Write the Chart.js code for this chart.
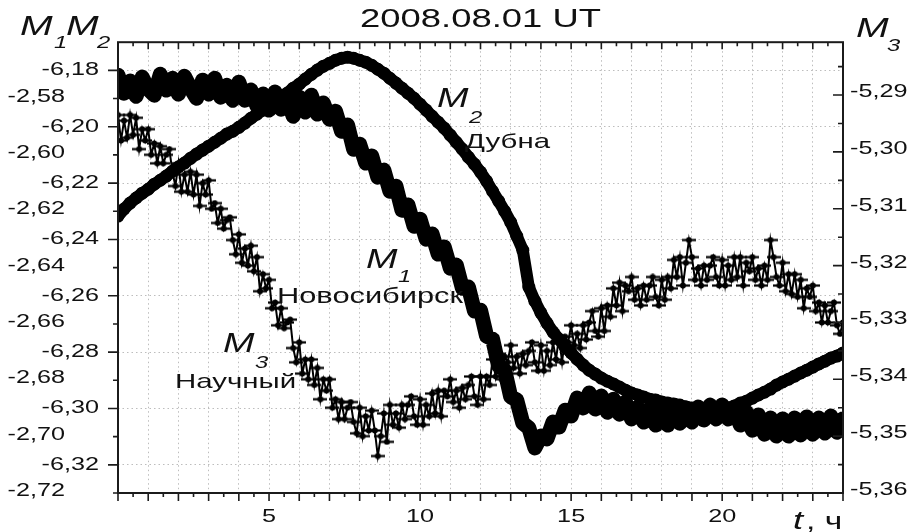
<!DOCTYPE html>
<html><head><meta charset="utf-8">
<script src="https://cdn.jsdelivr.net/npm/chart.js@4.4.1/dist/chart.umd.min.js"></script>
<style>html,body{margin:0;padding:0;background:#fff;} canvas{display:block;}</style>
</head><body>
<canvas id="c" width="915" height="532"></canvas>
<script>
// ---- data (hours UT) ----
const hoursM12 = Array.from({length: 121}, (_, i) => i / 5);   // sample times for M1, M2
const hoursM3  = Array.from({length: 241}, (_, i) => i / 10);  // sample times for M3

// M1 — Новосибирск (left scale -6.xx)
const m1Values = [
 -6.1817,-6.1881,-6.1838,-6.1892,-6.1824,-6.1867,-6.1888,-6.1814,-6.1870,-6.1828,
 -6.1884,-6.1821,-6.1863,-6.1899,-6.1835,-6.1884,-6.1828,-6.1895,-6.1853,-6.1906,
 -6.1842,-6.1906,-6.1870,-6.1927,-6.1884,-6.1941,-6.1877,-6.1938,-6.1902,-6.1963,
 -6.1895,-6.1948,-6.1888,-6.1955,-6.1916,-6.1973,-6.1945,-6.2016,-6.1994,-6.2080,
 -6.2062,-6.2129,-6.2104,-6.2179,-6.2154,-6.2229,-6.2211,-6.2296,-6.2278,-6.2353,
 -6.2328,-6.2399,-6.2381,-6.2452,-6.2427,-6.2502,-6.2491,-6.2573,-6.2569,-6.2654,
 -6.2651,-6.2743,-6.2754,-6.2849,-6.2864,-6.2959,-6.2970,-6.3052,-6.3069,-6.3140,
 -6.3098,-6.3108,-6.3048,-6.3066,-6.3006,-6.3027,-6.2963,-6.2998,-6.2945,-6.3002,
 -6.2956,-6.3013,-6.2967,-6.3020,-6.2977,-6.3037,-6.2995,-6.3048,-6.3002,-6.3059,
 -6.3006,-6.3059,-6.3006,-6.3052,-6.2998,-6.3048,-6.2995,-6.3041,-6.2988,-6.3037,
 -6.2988,-6.3037,-6.2998,-6.3059,-6.3013,-6.3077,-6.3023,-6.3091,-6.3034,-6.3098,
 -6.3037,-6.3098,-6.3034,-6.3094,-6.3030,-6.3091,-6.3034,-6.3087,-6.3027,-6.3084,
 -6.3037
];

// M2 — Дубна (left scale -2.xx)
const m2Values = [
 -2.6217,-2.6192,-2.6171,-2.6153,-2.6136,-2.6122,-2.6104,-2.6090,-2.6075,-2.6058,
 -2.6043,-2.6029,-2.6012,-2.5997,-2.5983,-2.5969,-2.5955,-2.5941,-2.5926,-2.5916,
 -2.5902,-2.5887,-2.5870,-2.5855,-2.5841,-2.5827,-2.5813,-2.5795,-2.5781,-2.5763,
 -2.5749,-2.5731,-2.5714,-2.5699,-2.5685,-2.5675,-2.5664,-2.5657,-2.5653,-2.5657,
 -2.5664,-2.5671,-2.5682,-2.5696,-2.5710,-2.5728,-2.5745,-2.5763,-2.5781,-2.5799,
 -2.5820,-2.5841,-2.5863,-2.5884,-2.5905,-2.5930,-2.5955,-2.5980,-2.6008,-2.6033,
 -2.6061,-2.6093,-2.6129,-2.6164,-2.6200,-2.6239,-2.6288,-2.6338,-2.6469,-2.6519,
 -2.6561,-2.6597,-2.6629,-2.6654,-2.6682,-2.6703,-2.6725,-2.6746,-2.6764,-2.6778,
 -2.6792,-2.6803,-2.6813,-2.6824,-2.6835,-2.6845,-2.6852,-2.6859,-2.6867,-2.6870,
 -2.6877,-2.6881,-2.6884,-2.6888,-2.6895,-2.6898,-2.6902,-2.6906,-2.6906,-2.6906,
 -2.6906,-2.6898,-2.6891,-2.6881,-2.6874,-2.6863,-2.6852,-2.6842,-2.6831,-2.6817,
 -2.6806,-2.6796,-2.6785,-2.6774,-2.6764,-2.6753,-2.6742,-2.6732,-2.6721,-2.6714,
 -2.6703
];

// M3 — Научный (right scale -5.xx)
const m3Values = [
 -5.2935,-5.2980,-5.2945,-5.2975,-5.2935, -5.2970,-5.2940,-5.2995,-5.2960,-5.2980,
 -5.2960,-5.3005,-5.2985,-5.3020,-5.2990, -5.3020,-5.3005,-5.2995,-5.3035,-5.3060,
 -5.3020,-5.3070,-5.3040,-5.3070,-5.3035, -5.3075,-5.3040,-5.3095,-5.3055,-5.3075,
 -5.3050,-5.3100,-5.3090,-5.3125,-5.3100, -5.3135,-5.3120,-5.3115,-5.3155,-5.3180,
 -5.3145,-5.3195,-5.3170,-5.3200,-5.3165, -5.3210,-5.3185,-5.3245,-5.3215,-5.3240,
 -5.3225,-5.3275,-5.3265,-5.3305,-5.3275, -5.3310,-5.3300,-5.3295,-5.3345,-5.3370,
 -5.3335,-5.3390,-5.3365,-5.3400,-5.3365, -5.3410,-5.3380,-5.3435,-5.3400,-5.3420,
 -5.3400,-5.3450,-5.3435,-5.3470,-5.3440, -5.3470,-5.3450,-5.3440,-5.3475,-5.3495,
 -5.3450,-5.3500,-5.3465,-5.3490,-5.3455, -5.3490,-5.3535,-5.3500,-5.3460,-5.3510,
 -5.3445,-5.3480,-5.3460,-5.3485,-5.3445, -5.3470,-5.3445,-5.3430,-5.3465,-5.3480,
 -5.3435,-5.3480,-5.3445,-5.3465,-5.3425, -5.3460,-5.3420,-5.3465,-5.3420,-5.3430,
 -5.3400,-5.3440,-5.3420,-5.3450,-5.3415, -5.3435,-5.3410,-5.3395,-5.3430,-5.3445,
 -5.3395,-5.3435,-5.3395,-5.3410,-5.3365, -5.3395,-5.3355,-5.3400,-5.3360,-5.3370,
 -5.3340,-5.3380,-5.3360,-5.3390,-5.3355, -5.3375,-5.3350,-5.3335,-5.3370,-5.3385,
 -5.3340,-5.3385,-5.3350,-5.3375,-5.3335, -5.3365,-5.3325,-5.3370,-5.3325,-5.3335,
 -5.3305,-5.3340,-5.3320,-5.3345,-5.3305, -5.3330,-5.3300,-5.3280,-5.3315,-5.3325,
 -5.3275,-5.3315,-5.3270,-5.3290,-5.3240, -5.3270,-5.3230,-5.3280,-5.3235,-5.3245,
 -5.3220,-5.3260,-5.3240,-5.3270,-5.3235, -5.3260,-5.3235,-5.3220,-5.3255,-5.3270,
 -5.3225,-5.3260,-5.3220,-5.3240,-5.3190, -5.3220,-5.3185,-5.3235,-5.3195,-5.3155,
 -5.3185,-5.3225,-5.3205,-5.3235,-5.3200, -5.3225,-5.3200,-5.3185,-5.3220,-5.3235,
 -5.3190,-5.3235,-5.3200,-5.3225,-5.3185, -5.3220,-5.3185,-5.3235,-5.3195,-5.3210,
 -5.3185,-5.3225,-5.3205,-5.3235,-5.3200, -5.3225,-5.3155,-5.3185,-5.3220,-5.3235,
 -5.3195,-5.3245,-5.3215,-5.3250,-5.3215, -5.3255,-5.3225,-5.3275,-5.3240,-5.3255,
 -5.3235,-5.3280,-5.3265,-5.3300,-5.3270, -5.3300,-5.3280,-5.3265,-5.3305,-5.3320,
 -5.3300
];

// tick labels
const xTickLabels  = [5, 10, 15, 20];
const m1TickValues = [-6.18, -6.20, -6.22, -6.24, -6.26, -6.28, -6.30, -6.32];
const m2TickValues = [-2.58, -2.60, -2.62, -2.64, -2.66, -2.68, -2.70, -2.72];
const m3TickValues = [-5.29, -5.30, -5.31, -5.32, -5.33, -5.34, -5.35, -5.36];
const titleText = '2008.08.01 UT';

// ---- rendering ----
const SX = 1.4; // horizontal text stretch of the original figure
const canvas = document.getElementById('c');
const ctx0 = canvas.getContext('2d');
const rawFill = ctx0.fillText.bind(ctx0);
ctx0.fillText = function (t, x, y) {
  this.save(); this.translate(x, y); this.scale(SX, 1); rawFill(t, 0, 0); this.restore();
};

const FONT = "'Liberation Sans', Arial, sans-serif";
const INK = '#111';
const GRID = '#bdbdbd';
const fmt = v => v.toFixed(2).replace('.', ',');

// point style for M3: dot with short horizontal bar
const m3Mark = document.createElement('canvas');
m3Mark.width = 14; m3Mark.height = 7;
(() => { const g = m3Mark.getContext('2d'); g.fillStyle = '#000';
  g.fillRect(0, 2.4, 14, 2.2); g.beginPath(); g.arc(7, 3.5, 3, 0, Math.PI * 2); g.fill(); })();

const decor = {
  id: 'decor',
  afterLayout(chart) {
    // let the inner left axis draw its labels over the full left margin
    chart.scales.yM1.left = 0;
  },
  afterDraw(chart) {
    const { ctx, chartArea: a, scales } = chart;
    ctx.save();
    ctx.strokeStyle = '#1b1b1b'; ctx.lineWidth = 2;
    ctx.strokeRect(a.left, a.top, a.right - a.left, a.bottom - a.top);
    ctx.lineWidth = 1.6;
    ctx.beginPath();
    for (let h = 0; h <= 24; h += 0.5) {
      const px = scales.x.getPixelForValue(h);
      const major = Number.isInteger(h);
      ctx.moveTo(px, a.bottom); ctx.lineTo(px, a.bottom + (major ? 8 : 4));
      ctx.moveTo(px, a.top); ctx.lineTo(px, a.top + (major ? 7 : 4));
    }
    m1TickValues.forEach(v => { const py = scales.yM1.getPixelForValue(v);
      ctx.moveTo(a.left - 10, py); ctx.lineTo(a.left, py); });
    m2TickValues.forEach(v => { const py = scales.yM2.getPixelForValue(v);
      ctx.moveTo(a.left - 5, py); ctx.lineTo(a.left, py); });
    m3TickValues.forEach(v => { const py = scales.yM3.getPixelForValue(v);
      ctx.moveTo(a.right - 10, py); ctx.lineTo(a.right, py);
      const pm = scales.yM3.getPixelForValue(v + 0.005);
      if (pm > a.top) { ctx.moveTo(a.right - 5, pm); ctx.lineTo(a.right, pm); } });
    ctx.stroke();

    // text annotations
    ctx.fillStyle = INK; ctx.textAlign = 'left'; ctx.textBaseline = 'alphabetic';
    const it = s => `italic ${s}px ${FONT}`;
    const rg = s => `${s}px ${FONT}`;
    const put = (t, x, y, f) => { ctx.font = f; ctx.fillText(t, x, y); };
    // axis names
    put('M', 20, 35, it(28)); put('1', 54, 48, it(17));
    put('M', 66, 35, it(28)); put('2', 97, 48, it(17));
    put('M', 856, 37, it(28)); put('3', 887, 51, it(17));
    put('t', 793, 529, it(26)); put(', ч', 806, 529, rg(24));
    // curve labels
    put('M', 437, 107, it(27)); put('2', 469, 123, it(17));
    put('Дубна', 465, 148, rg(21));
    put('M', 366, 268, it(27)); put('1', 398, 282, it(17));
    put('Новосибирск', 277, 303, rg(22));
    put('M', 223, 352, it(27)); put('3', 255, 368, it(17));
    put('Научный', 175, 388, rg(21));
    ctx.restore();
  }
};

new Chart(canvas, {
  type: 'scatter',
  data: {
    datasets: [
      { label: 'M1', yAxisID: 'yM1', data: hoursM12.map((h, i) => ({ x: h, y: m1Values[i] })),
        showLine: true, borderColor: '#000', borderWidth: 15, borderJoinStyle: 'round', borderCapStyle: 'round',
        pointRadius: 6.5, pointBackgroundColor: '#000', pointBorderWidth: 0, pointHoverRadius: 6.5 },
      { label: 'M2', yAxisID: 'yM2', data: hoursM12.map((h, i) => ({ x: h, y: m2Values[i] })),
        showLine: true, borderColor: '#000', borderWidth: 12, borderJoinStyle: 'round', borderCapStyle: 'round',
        pointRadius: 6.5, pointBackgroundColor: '#000', pointBorderWidth: 0, pointHoverRadius: 6.5 },
      { label: 'M3', yAxisID: 'yM3', data: hoursM3.map((h, i) => ({ x: h, y: m3Values[i] })),
        showLine: true, borderColor: '#000', borderWidth: 2,
        pointStyle: m3Mark, pointRadius: 7 }
    ]
  },
  options: {
    responsive: false, animation: false, devicePixelRatio: 1,
    layout: { padding: 0 },
    plugins: {
      legend: { display: false }, tooltip: { enabled: false },
      title: { display: true, text: titleText, fullSize: false, color: INK,
        font: { family: FONT, size: 26, weight: 'normal' }, padding: { top: 4, bottom: 7 } }
    },
    scales: {
      x: { type: 'linear', position: 'bottom', min: 0, max: 24,
        afterBuildTicks: s => { s.ticks = Array.from({length: 25}, (_, i) => ({ value: i })); },
        ticks: { autoSkip: false, maxRotation: 0, padding: 13, color: INK,
          font: { family: FONT, size: 18 },
          callback: v => xTickLabels.includes(v) ? String(v) : '' },
        grid: { drawTicks: false, lineWidth: 1,
          color: c => (c.tick && (c.tick.value === 0 || c.tick.value === 24)) ? 'rgba(0,0,0,0)' : GRID },
        border: { display: false, dash: [1.5, 3] },
        afterFit: s => { s.height = 39; } },
      yM1: { type: 'linear', position: 'left', weight: 0, min: -6.33, max: -6.17,
        afterBuildTicks: s => { s.ticks = m1TickValues.map(v => ({ value: v })); },
        ticks: { padding: 19, color: INK, font: { family: FONT, size: 18 }, callback: v => fmt(v) },
        grid: { drawTicks: false, color: GRID, lineWidth: 1 },
        border: { display: false, dash: [1.5, 3] },
        afterFit: s => { s.width = 53; } },
      yM2: { type: 'linear', position: 'left', weight: 1, min: -2.72, max: -2.56,
        afterBuildTicks: s => { s.ticks = m2TickValues.map(v => ({ value: v })); },
        ticks: { padding: 0, labelOffset: -2, color: INK, font: { family: FONT, size: 18 }, callback: v => fmt(v) },
        grid: { display: false, drawTicks: false },
        border: { display: false },
        afterFit: s => { s.width = 65; } },
      yM3: { type: 'linear', position: 'right', min: -5.36, max: -5.2807,
        afterBuildTicks: s => { s.ticks = m3TickValues.map(v => ({ value: v })); },
        ticks: { padding: 7, labelOffset: -3, color: INK, font: { family: FONT, size: 18 }, callback: v => fmt(v) },
        grid: { display: false, drawTicks: false },
        border: { display: false },
        afterFit: s => { s.width = 72; } }
    }
  },
  plugins: [decor]
});
</script>
</body></html>
